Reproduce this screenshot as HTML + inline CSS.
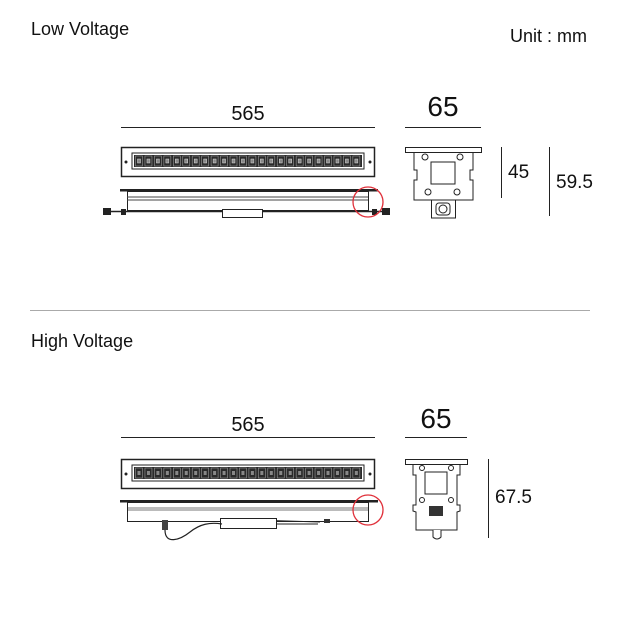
<!DOCTYPE html>
<html><head><meta charset="utf-8"><style>body{margin:0;background:#fff}svg{display:block}text{font-family:"Liberation Sans",sans-serif;fill:#111}</style></head><body>
<svg width="620" height="620" viewBox="0 0 620 620" xmlns="http://www.w3.org/2000/svg">
<defs>
<g id="leds">
<rect x="132" y="153" width="232" height="16" fill="#fff" stroke="#222"/>
<rect x="134" y="155" width="228" height="12" fill="#333"/>
</g>
</defs>
<text x="31" y="35" font-size="18">Low Voltage</text>
<text x="510" y="42" font-size="18">Unit : mm</text>
<!-- top 565 -->
<text x="248" y="120" font-size="20" text-anchor="middle">565</text>
<line x1="121" y1="127.5" x2="375" y2="127.5" stroke="#222"/>
<rect x="121.5" y="147.5" width="253" height="29" fill="#fff" stroke="#222" stroke-width="1.5"/>
<rect x="132" y="153" width="232" height="16" fill="#fff" stroke="#222"/>
<rect x="134" y="155" width="228" height="12" fill="#2a2a2a"/>
<g id="ledrow1" fill="#777" stroke="#ddd" stroke-width="0.5"></g>
<circle cx="126" cy="162" r="1.5" fill="#222"/><circle cx="370" cy="162" r="1.5" fill="#222"/>
<!-- side -->
<rect x="120" y="189" width="258" height="2.5" fill="#222"/>
<rect x="127.5" y="191.5" width="241" height="19" fill="#fff" stroke="#222"/>
<line x1="127" y1="197" x2="368" y2="197" stroke="#444"/>
<line x1="127" y1="200" x2="368" y2="200" stroke="#444"/>
<line x1="107" y1="211.5" x2="390" y2="211.5" stroke="#222" stroke-width="1.5"/>
<rect x="103" y="208" width="8" height="7" fill="#222"/><rect x="121" y="209" width="5" height="6" fill="#222"/>
<rect x="382" y="208" width="8" height="7" fill="#222"/><rect x="372" y="209" width="5" height="6" fill="#222"/>
<rect x="222.5" y="209.5" width="40" height="8" fill="#fff" stroke="#222"/>
<circle cx="368" cy="202" r="15" fill="none" stroke="#e0303a" stroke-width="1.3"/>
<!-- top profile -->
<text x="443" y="116" font-size="28" text-anchor="middle">65</text>
<line x1="405" y1="127.5" x2="481" y2="127.5" stroke="#222"/>
<rect x="405.5" y="147.5" width="76" height="5" fill="#fff" stroke="#222"/>
<path d="M414 153 V170 H417 V180 H414 V200 H473 V180 H470 V170 H473 V153" fill="#fff" stroke="#222"/>
<rect x="431" y="162" width="24" height="22" fill="#fff" stroke="#222"/>
<circle cx="425" cy="157" r="3" fill="#fff" stroke="#222"/><circle cx="460" cy="157" r="3" fill="#fff" stroke="#222"/>
<circle cx="428" cy="192" r="3" fill="#fff" stroke="#222"/><circle cx="457" cy="192" r="3" fill="#fff" stroke="#222"/>
<rect x="431.5" y="200" width="24" height="18" fill="#fff" stroke="#222"/>
<rect x="436" y="203" width="14" height="12" rx="3" fill="#fff" stroke="#222"/>
<circle cx="443" cy="209" r="4" fill="none" stroke="#222"/>
<line x1="501.5" y1="147" x2="501.5" y2="198" stroke="#222"/>
<text x="508" y="178" font-size="19">45</text>
<line x1="549.5" y1="147" x2="549.5" y2="216" stroke="#222"/>
<text x="556" y="188" font-size="19">59.5</text>
<line x1="30" y1="310.5" x2="590" y2="310.5" stroke="#aaa"/>
<text x="31" y="347" font-size="18">High Voltage</text>
<!-- bottom -->
<text x="248" y="431" font-size="20" text-anchor="middle">565</text>
<line x1="121" y1="437.5" x2="375" y2="437.5" stroke="#222"/>
<rect x="121.5" y="459.5" width="253" height="29" fill="#fff" stroke="#222" stroke-width="1.5"/>
<rect x="132" y="465" width="232" height="16" fill="#fff" stroke="#222"/>
<rect x="134" y="467" width="228" height="12" fill="#2a2a2a"/>
<g id="ledrow2"></g>
<circle cx="126" cy="474" r="1.5" fill="#222"/><circle cx="370" cy="474" r="1.5" fill="#222"/>
<rect x="120" y="500" width="258" height="2.5" fill="#222"/>
<rect x="127.5" y="502.5" width="241" height="19" fill="#fff" stroke="#222"/>
<rect x="128" y="507" width="240" height="4" fill="#bbb"/>
<line x1="220" y1="519" x2="320" y2="522" stroke="#222"/>
<rect x="220.5" y="518.5" width="56" height="10" fill="#fff" stroke="#222"/>
<rect x="162" y="520" width="6" height="10" fill="#444"/>
<path d="M165 530 C165 545 180 540 190 532 S210 522 222 524" fill="none" stroke="#222" stroke-width="1.2"/>
<path d="M276 524 L318 524" stroke="#222"/><rect x="324" y="519" width="6" height="4" fill="#333"/>
<circle cx="368" cy="510" r="15" fill="none" stroke="#e0303a" stroke-width="1.3"/>
<text x="436" y="428" font-size="28" text-anchor="middle">65</text>
<line x1="405" y1="437.5" x2="467" y2="437.5" stroke="#222"/>
<rect x="405.5" y="459.5" width="62" height="5" fill="#fff" stroke="#222"/>
<path d="M413 465 V475 H416 V505 H413 V511 L416 512 V530 H457 V512 L460 511 V505 H457 V475 H460 V465" fill="#fff" stroke="#222"/>
<rect x="425" y="472" width="22" height="22" fill="#fff" stroke="#222"/>
<circle cx="422" cy="468" r="2.5" fill="#fff" stroke="#222"/><circle cx="451" cy="468" r="2.5" fill="#fff" stroke="#222"/>
<circle cx="422" cy="500" r="2.5" fill="#fff" stroke="#222"/><circle cx="451" cy="500" r="2.5" fill="#fff" stroke="#222"/>
<rect x="429" y="506" width="14" height="10" fill="#333"/>
<path d="M433 530 V537 Q437 541 441 537 V530" fill="#fff" stroke="#222"/>
<line x1="488.5" y1="459" x2="488.5" y2="538" stroke="#222"/>
<text x="495" y="503" font-size="19">67.5</text>
</svg>
<script>
['ledrow1','ledrow2'].forEach(function(id,k){var g=document.getElementById(id);var y=k?468:156;var s='';for(var i=0;i<24;i++){var x=135.5+i*9.45;s+='<rect x="'+x+'" y="'+y+'" width="7" height="10" fill="none" stroke="#999" stroke-width="0.6"/><rect x="'+(x+2)+'" y="'+(y+3)+'" width="3" height="4" fill="#888"/>';}g.innerHTML=s;});
</script>
</body></html>
